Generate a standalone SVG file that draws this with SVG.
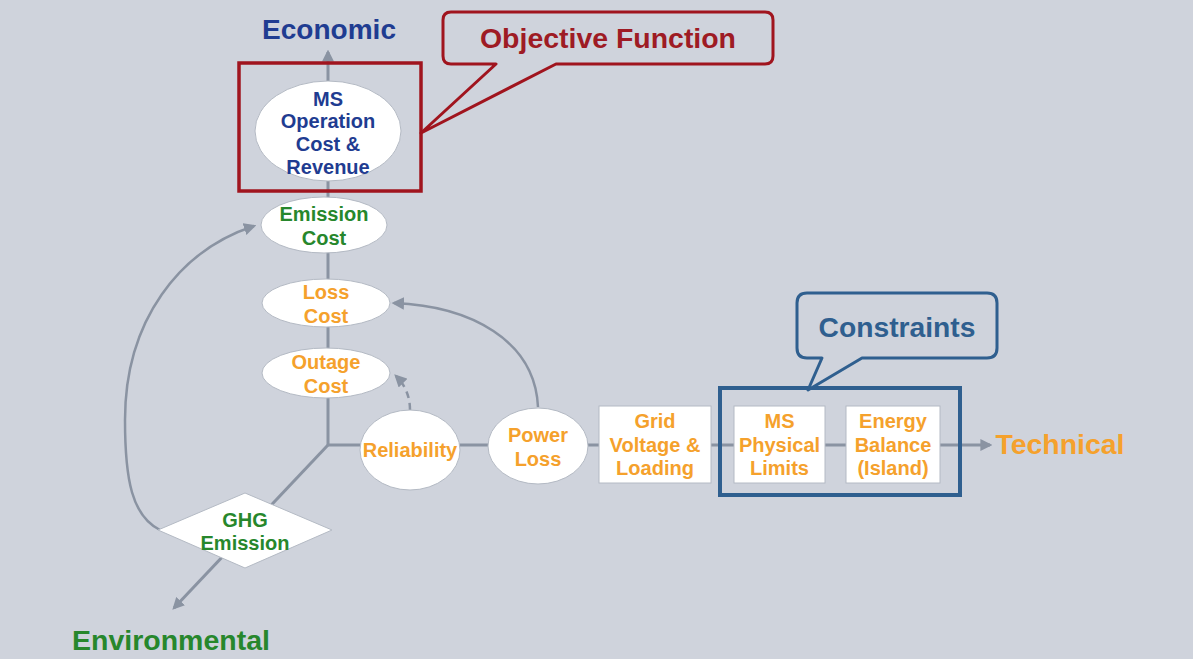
<svg xmlns="http://www.w3.org/2000/svg" width="1193" height="659" viewBox="0 0 1193 659">
<defs>
<marker id="arr" viewBox="0 0 10 10" refX="8" refY="5" markerWidth="4" markerHeight="4" orient="auto" markerUnits="strokeWidth">
<path d="M0,0 L10,5 L0,10 z" fill="#8A93A2"/>
</marker>
<marker id="arrs" viewBox="0 0 10 10" refX="8" refY="5" markerWidth="5" markerHeight="5" orient="auto" markerUnits="strokeWidth">
<path d="M0,0 L10,5 L0,10 z" fill="#8A93A2"/>
</marker>
</defs>
<style>
text{font-family:"Liberation Sans",Arial,sans-serif;font-weight:bold;text-anchor:middle}
.n{font-size:20px}
.t{font-size:27px}
.blue{fill:#1F3C91}
.green{fill:#27872C}
.orange{fill:#F5A12C}
.red{fill:#9E1B24}
.cblue{fill:#2F5F8F}
.ell{fill:#FFFFFF;stroke:#B4BAC4;stroke-width:1}
.box{fill:#FFFFFF;stroke:#B4BAC4;stroke-width:1}
.axis{fill:none;stroke:#8A93A2;stroke-width:3}
.curve{fill:none;stroke:#8A93A2;stroke-width:2.5}
</style>
<rect x="0" y="0" width="1193" height="659" fill="#CFD3DC"/>

<g id="connectors">
<path class="axis" d="M328,445 L328,52" marker-end="url(#arr)"/>
<path class="axis" d="M328,445 L990,445" marker-end="url(#arr)"/>
<path class="axis" d="M328,445 L174,608" marker-end="url(#arr)"/>
<path class="curve" d="M160,530 C132,516 125,480 125,420 C125,320 180,250 254,226" marker-end="url(#arrs)"/>
<path class="curve" d="M538,407 C535,340 470,306 394,303" marker-end="url(#arrs)"/>
<path class="curve" d="M410,410 Q410,390 396,376" stroke-dasharray="7,5" marker-end="url(#arrs)"/>
</g>

<g id="label-economic"><text class="t blue" x="329" y="39" textLength="134" lengthAdjust="spacingAndGlyphs">Economic</text></g>
<g id="label-technical"><text class="t orange" x="1060" y="454" textLength="129" lengthAdjust="spacingAndGlyphs">Technical</text></g>
<g id="label-environmental"><text class="t green" x="171" y="650" textLength="198" lengthAdjust="spacingAndGlyphs">Environmental</text></g>

<g id="node-ms-operation">
<ellipse class="ell" cx="328" cy="131" rx="73" ry="50"/>
<text class="n blue" x="328" y="106">MS</text>
<text class="n blue" x="328" y="128">Operation</text>
<text class="n blue" x="328" y="151">Cost &amp;</text>
<text class="n blue" x="328" y="174">Revenue</text>
</g>

<g id="objective-box">
<rect x="239" y="63" width="182" height="128" fill="none" stroke="#A0141E" stroke-width="3.5"/>
</g>

<g id="callout-objective">
<path d="M451,12 H765 Q773,12 773,20 V56 Q773,64 765,64 H556 L421,133 L496,64 H451 Q443,64 443,56 V20 Q443,12 451,12 Z" fill="#CFD3DC" stroke="#A0141E" stroke-width="3" stroke-linejoin="round"/>
<text class="t red" x="608" y="48" textLength="256" lengthAdjust="spacingAndGlyphs">Objective Function</text>
</g>

<g id="node-emission-cost">
<ellipse class="ell" cx="324" cy="225" rx="63" ry="28"/>
<text class="n green" x="324" y="221">Emission</text>
<text class="n green" x="324" y="245">Cost</text>
</g>

<g id="node-loss-cost">
<ellipse class="ell" cx="326" cy="303" rx="64" ry="24"/>
<text class="n orange" x="326" y="299">Loss</text>
<text class="n orange" x="326" y="323">Cost</text>
</g>

<g id="node-outage-cost">
<ellipse class="ell" cx="326" cy="373" rx="64" ry="25"/>
<text class="n orange" x="326" y="369">Outage</text>
<text class="n orange" x="326" y="393">Cost</text>
</g>

<g id="node-reliability">
<ellipse class="ell" cx="410" cy="450" rx="50" ry="40"/>
<text class="n orange" x="410" y="457">Reliability</text>
</g>

<g id="node-power-loss">
<ellipse class="ell" cx="538" cy="446" rx="50" ry="38"/>
<text class="n orange" x="538" y="442">Power</text>
<text class="n orange" x="538" y="466">Loss</text>
</g>

<g id="node-grid">
<rect class="box" x="599" y="406" width="112" height="77"/>
<text class="n orange" x="655" y="428">Grid</text>
<text class="n orange" x="655" y="452">Voltage &amp;</text>
<text class="n orange" x="655" y="475">Loading</text>
</g>

<g id="constraints-box">
<rect x="720" y="388" width="240" height="107" fill="none" stroke="#2F5F8F" stroke-width="4"/>
</g>

<g id="node-ms-physical">
<rect class="box" x="734" y="406" width="91" height="77"/>
<text class="n orange" x="779.5" y="428">MS</text>
<text class="n orange" x="779.5" y="452">Physical</text>
<text class="n orange" x="779.5" y="475">Limits</text>
</g>

<g id="node-energy-balance">
<rect class="box" x="846" y="406" width="94" height="77"/>
<text class="n orange" x="893" y="428">Energy</text>
<text class="n orange" x="893" y="452">Balance</text>
<text class="n orange" x="893" y="475">(Island)</text>
</g>

<g id="callout-constraints">
<path d="M807,293 H987 Q997,293 997,303 V348 Q997,358 987,358 H862 L808,390 L822,358 H807 Q797,358 797,348 V303 Q797,293 807,293 Z" fill="#CFD3DC" stroke="#2F5F8F" stroke-width="3" stroke-linejoin="round"/>
<text class="t cblue" x="897" y="337" textLength="157" lengthAdjust="spacingAndGlyphs">Constraints</text>
</g>

<g id="node-ghg">
<polygon points="245,493 332,530 245,568 158,530" fill="#FFFFFF" stroke="#B4BAC4" stroke-width="1"/>
<text class="n green" x="245" y="527">GHG</text>
<text class="n green" x="245" y="550">Emission</text>
</g>
</svg>
